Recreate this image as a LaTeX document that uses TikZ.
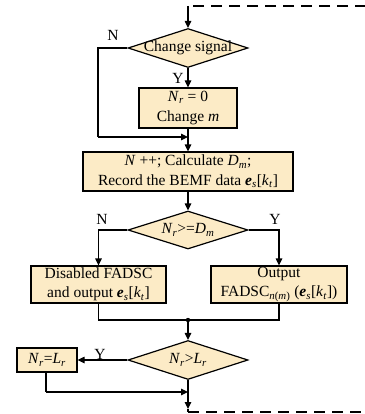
\documentclass[tikz,border=0pt]{standalone}
\usepackage{fontspec}
\setmainfont{Liberation Serif}
\usetikzlibrary{shapes.geometric,arrows.meta}
\definecolor{boxfill}{HTML}{FCEBC6}
\newcommand{\ital}[1]{\textit{#1}}
\newcommand{\bvec}[1]{\textbf{\textit{#1}}}
\tikzset{
  x=1pt,y=-1pt,
  every node/.style={font=\fontsize{15.5}{19.5}\selectfont},
  flow/.style={line width=1.2pt},
  arr/.style={flow,-{Triangle[length=7pt,width=6.5pt]}},
  procbox/.style={draw,line width=1.2pt,fill=boxfill,rectangle,inner sep=0pt,align=center},
  decide/.style={draw,line width=1.2pt,fill=boxfill,diamond,inner sep=0pt,minimum width=120pt,minimum height=39pt},
  lbl/.style={inner sep=0pt},
  loopline/.style={line width=1.2pt,dash pattern=on 11pt off 7pt},
}
\begin{document}
\begin{tikzpicture}
\useasboundingbox (0,0) rectangle (364,414);
\node[decide] (d1) at (188,48) {\makebox[0pt]{Change signal}};
\node[procbox,minimum width=98pt,minimum height=40pt] (b1) at (188,108) {\ital{N}\textsubscript{\ital{r}} = 0\\Change \ital{m}};
\node[procbox,minimum width=210pt,minimum height=39pt] (b2) at (188,171.5) {\ital{N} ++; Calculate \ital{D}\textsubscript{\ital{m}};\\Record the BEMF data \bvec{e}\textsubscript{\ital{s}}[\ital{k}\textsubscript{\ital{t}}]};
\node[decide,minimum height=38pt] (d2) at (188,230) {\makebox[0pt]{\ital{N}\textsubscript{\ital{r}}>=\ital{D}\textsubscript{\ital{m}}}};
\node[procbox,minimum width=135pt,minimum height=37pt] (b3) at (98.5,284.5) {Disabled FADSC\\and output \bvec{e}\textsubscript{\ital{s}}[\ital{k}\textsubscript{\ital{t}}]};
\node[procbox,minimum width=136pt,minimum height=37pt] (b4) at (279,284.5) {Output\\FADSC\textsubscript{\ital{n}(\ital{m})} (\bvec{e}\textsubscript{\ital{s}}[\ital{k}\textsubscript{\ital{t}}])};
\node[decide] (d3) at (188,360) {\makebox[0pt]{\ital{N}\textsubscript{\ital{r}}>\ital{L}\textsubscript{\ital{r}}}};
\node[procbox,minimum width=60pt,minimum height=24pt] (b5) at (47,360) {\ital{N}\textsubscript{\ital{r}}=\ital{L}\textsubscript{\ital{r}}};

\coordinate (top) at (188,6);
\coordinate (topR) at (366,6);
\coordinate (botR) at (366,412);
\coordinate (bot) at (188,412);
\coordinate (botArr) at (188,409);
\coordinate (nA) at (98,48);
\coordinate (nB) at (98,137);
\coordinate (jB) at (188,137);
\coordinate (mL) at (98,320);
\coordinate (mR) at (279,320);
\coordinate (mC) at (188,320);
\coordinate (rA) at (46,392);
\coordinate (rB) at (188,392);

% loop (the frame is cropped on the right)
\draw[loopline] (topR) -- (top);
\draw[loopline] (bot) -- (botR);
\draw[arr] (top) -- (d1.north);
\draw[arr] (d1.south) -- (b1.north);
\draw[flow] (d1.west) -- (nA) -- (nB);
\draw[arr] (nB) -- (jB);
\draw[arr] (b1.south) -- (b2.north);
\draw[arr] (b2.south) -- (d2.north);
\draw[arr] (d2.west) -| (b3.north);
\draw[arr] (d2.east) -| (b4.north);
\draw[flow] (b3.south) |- (mL) -- (mR) -| (b4.south);
\fill (mC) circle (2.2pt);
\draw[arr] (mC) -- (d3.north);
\draw[arr] (d3.west) -- (b5.east);
\draw[flow] (b5.south -| rA) -- (rA);
\draw[arr] (rA) -- (rB);
\draw[arr] (d3.south) -- (botArr);
\draw[flow] (botArr) -- (bot);

\node[lbl] (n1) at (113,35) {N};
\node[lbl] (y1) at (178,78) {Y};
\node[lbl] (n2) at (102,219) {N};
\node[lbl] (y2) at (275,219) {Y};
\node[lbl] (y3) at (100,354) {Y};
\end{tikzpicture}
\end{document}
